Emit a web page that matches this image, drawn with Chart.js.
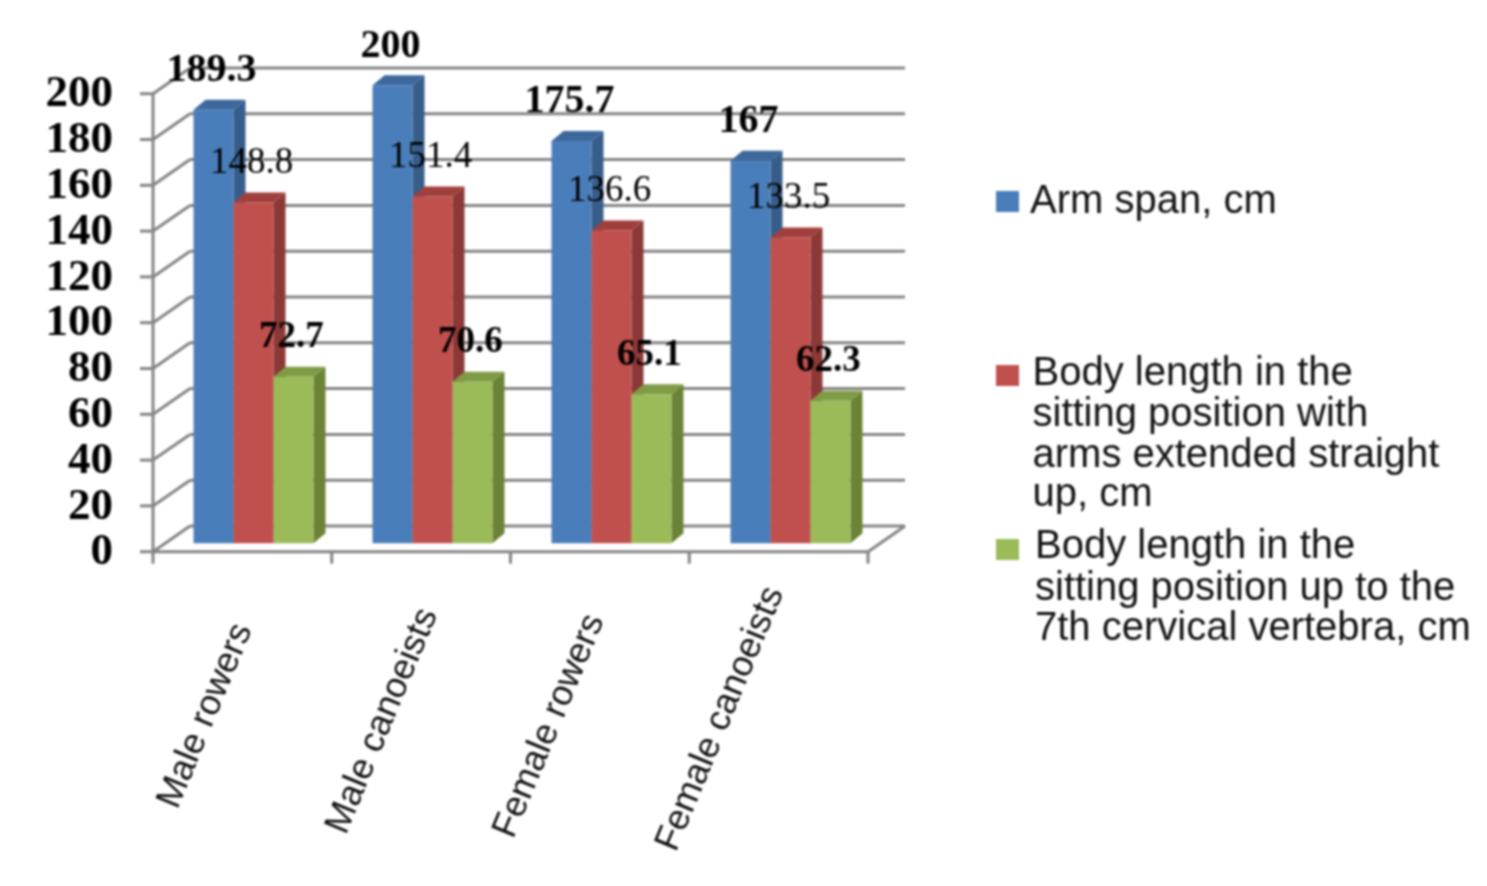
<!DOCTYPE html>
<html>
<head>
<meta charset="utf-8">
<title>Body measurements</title>
<script src="https://cdn.jsdelivr.net/npm/chart.js@4.5.0/dist/chart.umd.js"></script>
<style>
    body { margin: 0; background: #fff; }
    canvas { display: block; filter: blur(0.8px); }
</style>
</head>
<body>
<canvas id="chart" width="1487" height="886"></canvas>
<script>
const CATEGORIES = ["Male rowers", "Male canoeists", "Female rowers", "Female canoeists"];
const SERIES_NAMES = [
    "Arm span, cm",
    "Body length in the sitting position with arms extended straight up, cm",
    "Body length in the sitting position up to the 7th cervical vertebra, cm",
];
const ARM_SPAN = [189.3, 200, 175.7, 167];
const SITTING_ARMS_UP = [148.8, 151.4, 136.6, 133.5];
const SITTING_C7 = [72.7, 70.6, 65.1, 62.3];

const FACE = ["#4a7ebb", "#c0504d", "#9bbb59"];
const SIDE = ["#375d8a", "#8c3836", "#6a8336"];
const TOP = ["#3d689c", "#a03f3c", "#7f9c45"];
const GREY = "#858585";
const SERIF = "'Liberation Serif'";
const SANS = "'Liberation Sans'";

// fake 3D: the bars sit on the scale plane, the axis is in front of it and the wall behind it
const BAR_DEPTH = {x: 12, y: -10};
const FRONT = {x: -11, y: 8.4};
const BACK = {x: 26, y: -17.3};

const DATA_LABEL_FONTS = [`bold 40px ${SERIF}`, `37px ${SERIF}`, `bold 37px ${SERIF}`];

// legend text is wrapped by hand like in the original
const LEGEND = [
    {box: [996, 191], x: 1030, lines: [[SERIES_NAMES[0], 213]]},
    {box: [996, 365], x: 1032.5, lines: [["Body length in the", 385], ["sitting position with", 426], ["arms extended straight", 467], ["up, cm", 506]]},
    {box: [996, 539], x: 1035, lines: [["Body length in the", 558], ["sitting position up to the", 600], ["7th cervical vertebra, cm", 640]]},
];
const X_LABEL_SHIFT = [[-48, 716], [-50, 721], [-62, 726], [-70, 719]];

function line(ctx, x1, y1, x2, y2) {
    ctx.beginPath();
    ctx.moveTo(x1, y1);
    ctx.lineTo(x2, y2);
    ctx.stroke();
}

function poly(ctx, color, points) {
    ctx.fillStyle = color;
    ctx.beginPath();
    points.forEach(([x, y], i) => i ? ctx.lineTo(x, y) : ctx.moveTo(x, y));
    ctx.closePath();
    ctx.fill();
}

function drawWalls(chart) {
    const {ctx, scales: {x, y}, chartArea} = chart;
    const left = chartArea.left + FRONT.x;
    const right = chartArea.right + FRONT.x - 1;
    const backLeft = chartArea.left + BACK.x;
    const backRight = chartArea.right + BACK.x - 1;
    ctx.save();
    ctx.strokeStyle = GREY;
    ctx.lineWidth = 3;
    y.ticks.forEach(tick => {
        const py = y.getPixelForValue(tick.value);
        line(ctx, left - 13, py + FRONT.y, left, py + FRONT.y);
        line(ctx, left, py + FRONT.y, backLeft, py + BACK.y);
        line(ctx, backLeft, py + BACK.y, backRight, py + BACK.y);
    });
    const y0 = y.getPixelForValue(0);
    line(ctx, left, y.getPixelForValue(200) + FRONT.y, left, y0 + FRONT.y + 12);
    line(ctx, left, y0 + FRONT.y, right, y0 + FRONT.y);
    line(ctx, right, y0 + FRONT.y, backRight, y0 + BACK.y);
    CATEGORIES.forEach((_, i) => {
        const px = left + (right - left) * (i + 1) / CATEGORIES.length;
        line(ctx, px, y0 + FRONT.y, px, y0 + FRONT.y + 12);
    });
    ctx.restore();
}

function drawBarSides(chart, index) {
    const {ctx} = chart;
    const dx = BAR_DEPTH.x, dy = BAR_DEPTH.y;
    chart.getDatasetMeta(index).data.forEach(bar => {
        const l = bar.x - bar.width / 2, r = bar.x + bar.width / 2;
        poly(ctx, SIDE[index], [[r, bar.y], [r + dx, bar.y + dy], [r + dx, bar.base + dy], [r, bar.base]]);
        poly(ctx, TOP[index], [[l, bar.y], [l + dx, bar.y + dy], [r + dx, bar.y + dy], [r, bar.y]]);
    });
}

function drawDataLabels(chart) {
    const {ctx} = chart;
    ctx.save();
    ctx.fillStyle = "#000";
    ctx.textAlign = "center";
    ctx.textBaseline = "middle";
    chart.data.datasets.forEach((dataset, index) => {
        ctx.font = DATA_LABEL_FONTS[index];
        chart.getDatasetMeta(index).data.forEach((bar, i) => {
            ctx.fillText(String(dataset.data[i]), bar.x - 2, bar.y - 39);
        });
    });
    ctx.restore();
}

function drawXLabels(chart) {
    const {ctx, scales: {x}} = chart;
    ctx.save();
    ctx.fillStyle = "#111";
    ctx.font = `36px ${SANS}`;
    ctx.textAlign = "center";
    ctx.textBaseline = "middle";
    CATEGORIES.forEach((label, i) => {
        ctx.save();
        ctx.translate(x.getPixelForTick(i) + X_LABEL_SHIFT[i][0], X_LABEL_SHIFT[i][1]);
        ctx.rotate(-67.5 * Math.PI / 180);
        ctx.fillText(label, 0, 0);
        ctx.restore();
    });
    ctx.restore();
}

function drawLegend(chart) {
    const {ctx} = chart;
    ctx.save();
    ctx.font = `40px ${SANS}`;
    ctx.textBaseline = "alphabetic";
    LEGEND.forEach((item, index) => {
        ctx.fillStyle = FACE[index];
        ctx.fillRect(item.box[0], item.box[1], 23, 21);
        ctx.fillStyle = "#111";
        item.lines.forEach(([text, y]) => ctx.fillText(text, item.x, y));
    });
    ctx.restore();
}

const bars3d = {
    id: "bars3d",
    beforeDatasetsDraw(chart) {
        drawWalls(chart);
        // draw left to right, so that each bar covers the side of its left neighbour
        chart.data.datasets.forEach((_, index) => {
            drawBarSides(chart, index);
            chart.getDatasetMeta(index).controller.draw();
        });
        return false;
    },
    afterDraw(chart) {
        drawDataLabels(chart);
        drawXLabels(chart);
        drawLegend(chart);
    },
};

new Chart(document.getElementById("chart"), {
    type: "bar",
    data: {
        labels: CATEGORIES,
        datasets: [ARM_SPAN, SITTING_ARMS_UP, SITTING_C7].map((data, index) => ({
            label: SERIES_NAMES[index],
            data: data,
            backgroundColor: FACE[index],
            borderWidth: 0,
            barPercentage: 1,
            categoryPercentage: 0.67,
        })),
    },
    options: {
        responsive: false,
        animation: false,
        layout: {padding: {top: 85.3, right: 607, left: 0, bottom: 0}},
        plugins: {legend: {display: false}, tooltip: {enabled: false}},
        scales: {
            x: {
                grid: {display: false, drawTicks: false},
                border: {display: false},
                ticks: {display: false},
                afterFit(scale) { scale.height = 342.7; },
            },
            y: {
                min: 0,
                max: 200,
                grid: {display: false, drawTicks: false},
                border: {display: false},
                ticks: {
                    stepSize: 20,
                    autoSkip: false,
                    padding: 51,
                    labelOffset: 9.5,
                    color: "#000",
                    font: {family: "Liberation Serif", size: 45, weight: "bold"},
                },
                afterFit(scale) { scale.width = 164; },
            },
        },
    },
    plugins: [bars3d],
});
</script>
</body>
</html>
